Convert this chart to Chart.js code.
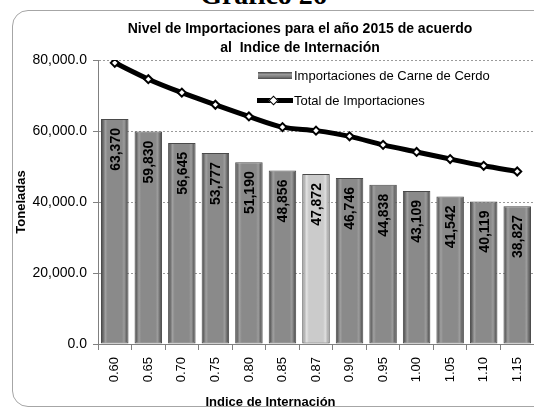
<!DOCTYPE html>
<html><head><meta charset="utf-8">
<script src="https://cdn.jsdelivr.net/npm/chart.js@4"></script>
<style>
html,body{margin:0;padding:0;background:#fff;}
#wrap{position:relative;width:534px;height:407px;overflow:hidden;font-family:"Liberation Sans",Arial,sans-serif;color:#000;}
#frame{position:absolute;left:12px;top:10px;width:600px;height:395px;border:1px solid #a6a6a6;border-radius:16px;}
#cv{position:absolute;left:0;top:0;}
#grafico{position:absolute;left:0;width:527px;top:-19px;text-align:center;font:bold 28px/28px "Liberation Serif","Times New Roman",serif;white-space:nowrap;}
#title{position:absolute;left:0;width:600px;top:19px;text-align:center;font:bold 14px/19px "Liberation Sans",Arial,sans-serif;white-space:pre;}
#xtitle{position:absolute;left:0;width:541px;top:395px;text-align:center;font:bold 13px/14px "Liberation Sans",Arial,sans-serif;}
.lg{position:absolute;font:13px/15px "Liberation Sans",Arial,sans-serif;white-space:nowrap;}
#sw1{position:absolute;left:258px;top:72px;width:34px;height:7px;background:linear-gradient(#4a4a4a,#9a9a9a 35%,#7a7a7a 70%,#4a4a4a);}
#sw2{position:absolute;left:257px;top:98px;width:36px;height:5px;background:#000;}
#mk2{position:absolute;left:270px;top:97px;width:5px;height:5px;background:#fff;border:1px solid #000;transform:rotate(45deg);}
</style></head>
<body>
<div id="wrap">
  <div id="frame"></div>
  <div id="grafico">Gráfico 26</div>
  <canvas id="cv" width="534" height="407"></canvas>
  <div id="title">Nivel de Importaciones para el año 2015 de acuerdo
al  Indice de Internación</div>
  <div id="xtitle">Indice de Internación</div>
  <div id="sw1"></div>
  <div class="lg" style="left:294px;top:68px;">Importaciones de Carne de Cerdo</div>
  <div id="sw2"></div><div id="mk2"></div>
  <div class="lg" style="left:294px;top:93px;">Total de Importaciones</div>
</div>
<script>
const categories = ['0.60','0.65','0.70','0.75','0.80','0.85','0.87','0.90','0.95','1.00','1.05','1.10','1.15'];
const porkImports = [63370,59830,56645,53777,51190,48856,47872,46746,44838,43109,41542,40119,38827];
const totalImports = [79200,74600,70800,67400,64100,61100,60100,58500,56100,54100,52100,50200,48600];
const yTicks = [0,20000,40000,60000,80000];
const highlightCategory = '0.87';

const fmtInt = v => v.toLocaleString('en-US');
const fmtTick = v => v.toLocaleString('en-US',{minimumFractionDigits:1,maximumFractionDigits:1});

const BAR_PCT = 0.82;
function barFill(c){
  const light = c.dataIndex !== undefined && categories[c.dataIndex] === highlightCategory;
  const chart = c.chart, xs = chart.scales && chart.scales.x;
  if (!xs || c.dataIndex === undefined) return light ? '#cbcbcb' : '#8a8a8a';
  const cx = xs.getPixelForValue(c.dataIndex);
  const hw = xs.width / categories.length * BAR_PCT / 2;
  if (!isFinite(cx) || !isFinite(hw) || hw <= 0) return light ? '#cbcbcb' : '#8a8a8a';
  const g = chart.ctx.createLinearGradient(cx - hw, 0, cx + hw, 0);
  const s = light
    ? ['#8f8f8f','#b0b0b0','#e2e2e2','#cbcbcb','#cbcbcb','#dedede','#b0b0b0','#8f8f8f']
    : ['#444444','#666666','#a0a0a0','#8a8a8a','#8a8a8a','#9c9c9c','#666666','#444444'];
  const p = [0,0.07,0.16,0.24,0.76,0.84,0.93,1];
  p.forEach((q,i)=>g.addColorStop(q,s[i]));
  return g;
}

const barLabels = {
  id:'barLabels',
  afterDatasetsDraw(chart){
    const meta = chart.getDatasetMeta(0);
    const ctx = chart.ctx;
    ctx.save();
    ctx.font = 'bold 14px "Liberation Sans", Arial, sans-serif';
    ctx.fillStyle = '#000';
    ctx.textAlign = 'right';
    ctx.textBaseline = 'middle';
    meta.data.forEach((el,i)=>{
      ctx.save();
      ctx.translate(el.x + 1, el.y + 9);
      ctx.rotate(-Math.PI/2);
      ctx.fillText(fmtInt(porkImports[i]), 0, 0);
      ctx.restore();
    });
    ctx.restore();
  }
};

new Chart(document.getElementById('cv'), {
  type:'bar',
  data:{
    labels: categories,
    datasets:[
      {
        type:'bar', label:'Importaciones de Carne de Cerdo', data: porkImports,
        backgroundColor: barFill, borderColor:'#4a4a4a', borderWidth:1, borderSkipped:false,
        barPercentage: BAR_PCT, categoryPercentage: 1.0, order: 1
      },
      {
        type:'line', label:'Total de Importaciones', data: totalImports,
        borderColor:'#000', borderWidth:5, tension:0.3, fill:false,
        pointStyle:'rectRot', pointRadius:4, pointBackgroundColor:'#fff',
        pointBorderColor:'#000', pointBorderWidth:2, order: 0
      }
    ]
  },
  options:{
    responsive:false, animation:false, devicePixelRatio:1,
    layout:{autoPadding:false, padding:{top:60,left:14,right:0,bottom:0}},
    plugins:{legend:{display:false}, tooltip:{enabled:false}, title:{display:false}},
    scales:{
      x:{
        offset:true,
        grid:{offset:true, drawOnChartArea:false, drawTicks:true, tickLength:6, color:'#808080'},
        border:{color:'#808080', width:1},
        ticks:{minRotation:90, maxRotation:90, padding:7, color:'#000',
               font:{family:'"Liberation Sans", Arial, sans-serif', size:13}},
        afterFit(s){ s.height = 63; s.paddingLeft = 0; s.paddingRight = 0; }
      },
      y:{
        min:0, max:80000,
        afterBuildTicks(s){ s.ticks = yTicks.map(v=>({value:v})); },
        grid:{color:'#9a9a9a', lineWidth:1, drawTicks:true, tickLength:5, tickColor:'#808080', tickBorderDash:[]},
        border:{color:'#808080', width:1, dash:[2,2]},
        ticks:{padding:6, color:'#000', callback:v=>fmtTick(v),
               font:{family:'"Liberation Sans", Arial, sans-serif', size:14}},
        title:{display:true, text:'Toneladas', color:'#000', padding:{top:0,bottom:0},
               font:{family:'"Liberation Sans", Arial, sans-serif', size:13, weight:'bold'}},
        afterFit(s){ s.width = 84; s.paddingTop = 0; s.paddingBottom = 0; }
      }
    }
  },
  plugins:[barLabels]
});
</script>
</body></html>
